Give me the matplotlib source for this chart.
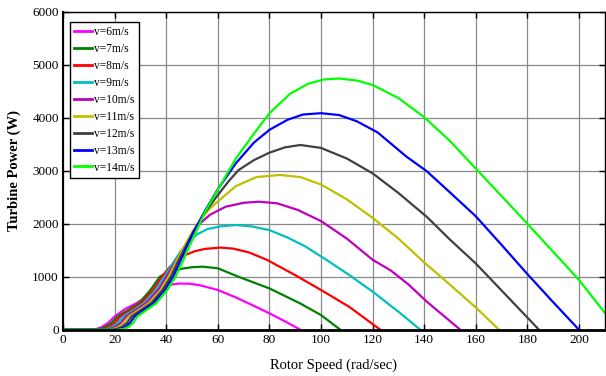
import matplotlib
matplotlib.use("Agg")
import matplotlib.pyplot as plt

# ---- data ----
labels = ["v=6m/s", "v=7m/s", "v=8m/s", "v=9m/s", "v=10m/s",
          "v=11m/s", "v=12m/s", "v=13m/s", "v=14m/s"]
colors = ["#ff00ff", "#008000", "#ff0000", "#00bfbf", "#bf00bf",
          "#bfbf00", "#404040", "#0000ff", "#00ff00"]

x6 = [0, 11, 13, 15, 17.5, 20, 24, 28.4, 34, 38, 40.5, 42.5, 45, 49, 53, 60, 67, 74, 80, 86, 92]
y6 = [0, 0, 15, 50, 130, 250, 390, 500, 670, 780, 830, 858, 872, 868, 840, 750, 610, 450, 310, 160, 0]

x7 = [0, 12.3, 14.3, 16.3, 18.8, 21.1, 25.5, 29.4, 33.9, 37.5, 40, 43, 46, 50, 54, 60, 68, 80, 92, 100, 107.5]
y7 = [0, 0, 15, 50, 130, 250, 380, 500, 750, 1000, 1070, 1120, 1150, 1180, 1190, 1160, 1000, 780, 495, 277, 0]

x8 = [0, 13.6, 15.6, 17.6, 20, 22.2, 26.5, 30.3, 34.9, 38.3, 41.5, 44.5, 47.5, 51, 55, 61, 66, 72, 79, 90, 100, 111, 123]
y8 = [0, 0, 15, 50, 130, 250, 380, 500, 750, 1000, 1190, 1320, 1410, 1480, 1525, 1550, 1530, 1460, 1320, 1030, 750, 430, 0]

x9 = [0, 14.9, 16.9, 18.9, 21.2, 23.3, 27.5, 31.3, 35.9, 39.2, 42.5, 45.5, 48.5, 52, 56, 61, 67, 73, 80, 87, 94, 103, 111, 120, 130, 138.5]
y9 = [0, 0, 15, 50, 130, 250, 380, 500, 750, 1000, 1250, 1470, 1650, 1800, 1900, 1950, 1975, 1950, 1880, 1740, 1570, 1290, 1030, 720, 340, 0]

x10 = [0, 16.2, 18.2, 20.2, 22.4, 24.4, 28.5, 32.2, 36.9, 40.1, 44, 47, 50, 53, 57, 63, 70, 76, 83, 91, 100, 110, 120, 127, 134, 141, 154]
y10 = [0, 0, 15, 50, 130, 250, 380, 500, 750, 1000, 1320, 1560, 1790, 2000, 2170, 2320, 2395, 2415, 2385, 2260, 2050, 1720, 1320, 1120, 850, 530, 0]

x11 = [0, 17.5, 19.5, 21.5, 23.6, 25.5, 29.5, 33.2, 37.8, 40.9, 44.5, 47.5, 50.3, 54, 57, 60, 67, 75, 84, 92, 100, 110, 120, 130, 140, 150, 160, 169]
y11 = [0, 0, 15, 50, 130, 250, 380, 500, 750, 1000, 1350, 1620, 1860, 2120, 2290, 2420, 2710, 2880, 2920, 2880, 2740, 2460, 2110, 1720, 1270, 850, 420, 0]

x12 = [0, 18.8, 20.8, 22.8, 24.8, 26.6, 30.5, 34.2, 38.6, 41.8, 45, 48, 50.5, 55, 60, 64, 68, 74, 80, 86, 92, 100, 110, 120, 130, 141, 150, 160, 170, 180, 184.5]
y12 = [0, 0, 15, 50, 130, 250, 380, 500, 750, 1000, 1330, 1610, 1850, 2210, 2540, 2790, 3010, 3200, 3340, 3440, 3485, 3430, 3230, 2950, 2580, 2130, 1700, 1250, 740, 230, 0]

x13 = [0, 20.1, 22.1, 24.1, 26, 27.7, 31.5, 35.1, 39.5, 42.7, 45.5, 48, 50.7, 55, 60, 67, 74, 80, 87, 93, 100, 107, 114, 122, 133, 141, 150, 160, 170, 180, 190, 200]
y13 = [0, 0, 15, 50, 130, 250, 380, 500, 750, 1000, 1300, 1570, 1850, 2240, 2650, 3140, 3530, 3770, 3960, 4060, 4085, 4050, 3930, 3720, 3270, 2990, 2590, 2140, 1600, 1050, 520, 0]

x14 = [0, 21.4, 23.4, 25.4, 27.2, 28.8, 32.6, 36.1, 40.4, 43.6, 46.3, 48.7, 51, 55, 60, 67, 74, 80, 88, 95, 101, 107, 114, 120, 130, 140, 150, 160, 170, 180, 190, 200, 210]
y14 = [0, 0, 15, 50, 130, 250, 380, 500, 750, 1000, 1280, 1540, 1790, 2220, 2640, 3230, 3700, 4083, 4450, 4640, 4720, 4740, 4700, 4617, 4370, 4010, 3560, 3040, 2520, 2000, 1470, 940, 320]

xs = [x6, x7, x8, x9, x10, x11, x12, x13, x14]
ys = [y6, y7, y8, y9, y10, y11, y12, y13, y14]

xticks = [0, 20, 40, 60, 80, 100, 120, 140, 160, 180, 200]
yticks = [0, 1000, 2000, 3000, 4000, 5000, 6000]

# ---- plotting ----
plt.rcParams['font.family'] = ['Liberation Serif', 'DejaVu Serif']
fig = plt.figure(figsize=(6.06, 3.76), dpi=100)
ax = fig.add_axes([0.104, 0.123, 0.894, 0.846])

for x, y, c, lab in zip(xs, ys, colors, labels):
    ax.plot(x, y, color=c, lw=1.6, label=lab, solid_joinstyle='round')

ax.set_xlim(0, 210)
ax.set_ylim(0, 6000)
ax.set_xticks(xticks)
ax.set_yticks(yticks)
ax.grid(True, color='#8a8a8a', lw=0.9)
ax.set_axisbelow(True)
ax.tick_params(direction='in', top=True, right=True, labelsize=9.5,
               length=4, width=1, pad=3)
for s in ax.spines.values():
    s.set_linewidth(1.0)
ax.spines['bottom'].set_linewidth(2.0)
ax.spines['left'].set_linewidth(1.5)

ax.set_xlabel("Rotor Speed (rad/sec)", fontsize=10.5, labelpad=9)
ax.set_ylabel("Turbine Power (W)", fontsize=10.5, fontweight='bold', labelpad=8)

leg = ax.legend(loc='upper left', fontsize=8.3, frameon=True, fancybox=False,
                edgecolor='black', framealpha=1, handlelength=1.6,
                handletextpad=0.2, borderpad=0.35, labelspacing=0.43,
                borderaxespad=0.0, bbox_to_anchor=(0.012, 0.968))
leg.get_frame().set_linewidth(1.0)
for l in leg.get_lines():
    l.set_linewidth(2.0)

fig.savefig("out.png", dpi=100)
